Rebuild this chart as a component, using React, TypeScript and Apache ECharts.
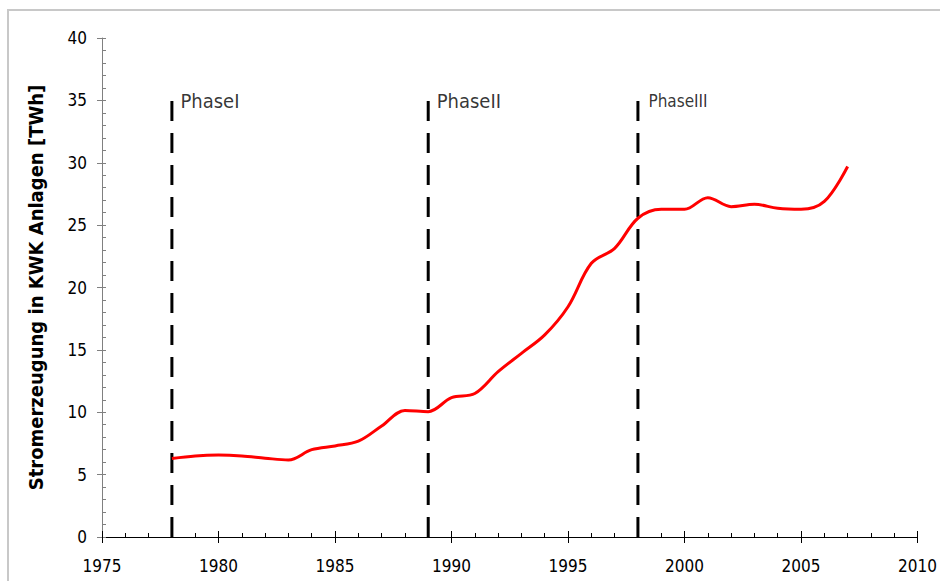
import { useEffect, useRef } from 'react';
import * as echarts from 'echarts';

// Electricity generation from CHP plants, TWh per year
const years = [
  1978, 1979, 1980, 1981, 1982, 1983, 1984, 1985, 1986, 1987,
  1988, 1989, 1990, 1991, 1992, 1993, 1994, 1995, 1996, 1997,
  1998, 1999, 2000, 2001, 2002, 2003, 2004, 2005, 2006, 2007,
];
const output = [
  6.3, 6.5, 6.57, 6.5, 6.32, 6.17, 7.0, 7.3, 7.68, 8.9,
  10.15, 10.05, 11.17, 11.5, 13.25, 14.72, 16.2, 18.46, 21.94, 23.14,
  25.55, 26.27, 26.27, 27.2, 26.48, 26.67, 26.35, 26.27, 26.9, 29.7,
];

// Policy phases: start year and name; marker lines run from 0 up to phaseTop
const phaseYears = [1978, 1989, 1998];
const phaseNames = ['PhaseI', 'PhaseII', 'PhaseIII'];
const phaseTop = 35;

const FONT = '"DejaVu Sans Condensed", "DejaVu Sans", sans-serif';

export default function App() {
  const ref = useRef<HTMLDivElement>(null);

  useEffect(() => {
    if (!ref.current) return;
    const chart = echarts.init(ref.current, undefined, { renderer: 'svg' });

    const phaseLines = phaseYears.map((yr) => ({
      type: 'line',
      data: [
        [yr, 0],
        [yr, phaseTop],
      ],
      symbol: 'none',
      silent: true,
      z: 2,
      lineStyle: { color: '#000000', width: 3, type: [20, 12] },
    }));

    const option = {
      animation: false,
      textStyle: { fontFamily: FONT, color: '#000' },
      graphic: [
        {
          type: 'rect',
          silent: true,
          z: -1,
          shape: { x: 8, y: 10, width: 1000, height: 700 },
          style: { fill: 'none', stroke: '#c8c8c8', lineWidth: 2 },
        },
      ],
      grid: { left: 102, right: 22, top: 38, bottom: 44 },
      xAxis: [
        {
          type: 'value',
          position: 'bottom',
          min: 1975,
          max: 2010,
          interval: 5,
          axisLine: { show: true, lineStyle: { color: '#000', width: 1 } },
          axisTick: { show: true, length: 6, lineStyle: { color: '#000' } },
          axisLabel: {
            fontSize: 17,
            color: '#000',
            margin: 20,
            fontFamily: FONT,
            formatter: (v: number) => String(v),
          },
          splitLine: { show: false },
        },
        {
          type: 'value',
          position: 'bottom',
          min: 1975,
          max: 2010,
          interval: 5,
          axisLine: { show: false },
          axisTick: { show: true, inside: true, length: 6, lineStyle: { color: '#000' } },
          minorTick: { show: true, splitNumber: 5, length: 4, lineStyle: { color: '#000' } },
          axisLabel: { show: false },
          splitLine: { show: false },
        },
      ],
      yAxis: [
        {
          type: 'value',
          position: 'left',
          min: 0,
          max: 40,
          interval: 5,
          axisLine: { show: true, lineStyle: { color: '#808080', width: 1 } },
          axisTick: { show: true, length: 5, lineStyle: { color: '#808080' } },
          axisLabel: { fontSize: 17, color: '#000', margin: 15, fontFamily: FONT },
          splitLine: { show: false },
          name: 'Stromerzeugung in KWK Anlagen [TWh]',
          nameLocation: 'middle',
          nameGap: 56,
          nameTextStyle: { fontSize: 20, fontWeight: 'bold', color: '#000', fontFamily: FONT },
        },
        {
          type: 'value',
          position: 'left',
          min: 0,
          max: 40,
          interval: 5,
          axisLine: { show: false },
          axisTick: { show: true, inside: true, length: 4, lineStyle: { color: '#808080' } },
          minorTick: { show: true, splitNumber: 5, length: 4, lineStyle: { color: '#808080' } },
          axisLabel: { show: false },
          splitLine: { show: false },
        },
      ],
      series: [
        ...phaseLines,
        {
          type: 'scatter',
          silent: true,
          symbolSize: 1,
          itemStyle: { color: 'rgba(0,0,0,0)' },
          z: 4,
          data: phaseYears.map((yr, i) => ({
            value: [yr, phaseTop],
            name: phaseNames[i],
            label: {
              show: true,
              position: 'right',
              distance: phaseNames[i] === 'PhaseIII' ? 10 : 8,
              offset: [0, 1],
              formatter: '{b}',
              color: '#000',
              fontFamily: FONT,
              fontSize: phaseNames[i] === 'PhaseIII' ? 17 : 20,
            },
          })),
        },
        {
          type: 'line',
          data: years.map((yr, i) => [yr, output[i]]),
          smooth: 0.35,
          symbol: 'none',
          silent: true,
          z: 3,
          lineStyle: { color: '#ff0000', width: 3 },
        },
      ],
    };

    chart.setOption(option as any);
    return () => chart.dispose();
  }, []);

  return (
    <div
      ref={ref}
      style={{ position: 'fixed', left: 0, top: 0, width: 940, height: 581, background: '#fff' }}
    />
  );
}
